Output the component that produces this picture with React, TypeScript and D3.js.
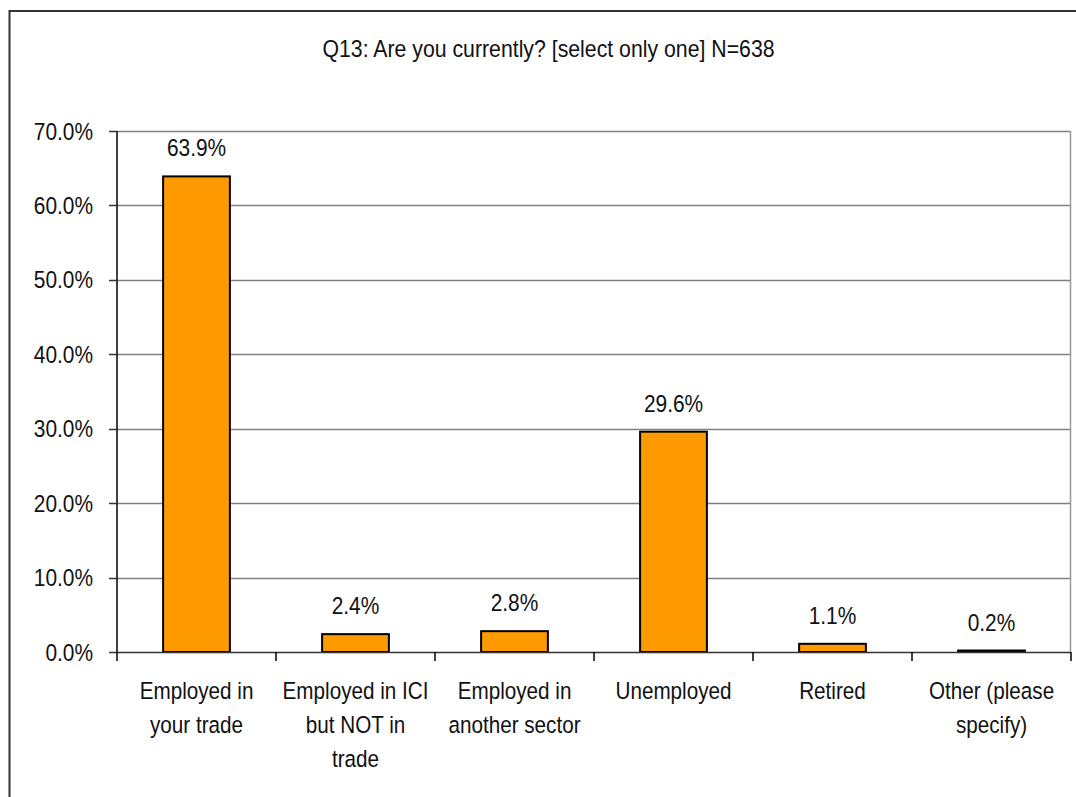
import React from "react";
import * as d3 from "d3";

const title = "Q13: Are you currently? [select only one] N=638";
const categories: string[][] = [
  ["Employed in", "your trade"],
  ["Employed in ICI", "but NOT in", "trade"],
  ["Employed in", "another sector"],
  ["Unemployed"],
  ["Retired"],
  ["Other (please", "specify)"],
];
const values = [63.9, 2.4, 2.8, 29.6, 1.1, 0.2];
const yTicks = [0, 10, 20, 30, 40, 50, 60, 70];

const FONT = "'Liberation Sans', Arial, sans-serif";
const SX = 0.87;

export default function App() {
  const W = 1076, H = 797;
  const left = 117, right = 1071, top = 131, bottom = 652;
  const x = d3.scaleBand<number>().domain(d3.range(values.length)).range([left, right]).paddingInner(0.58).paddingOuter(0.29);
  const xb = d3.scaleBand<number>().domain(d3.range(values.length)).range([left, right]);
  const y = d3.scaleLinear().domain([0, 70]).range([bottom, top]);
  const fmt = d3.format(".1f");
  return (
    <svg width={W} height={H} style={{ position: "absolute", left: 0, top: 0, background: "#fff" }} fontFamily={FONT}>
      <path d={`M9.5,${H} V11 H${W}`} fill="none" stroke="#333" strokeWidth={2} />
      <text transform={`translate(548.5,57) scale(0.925,1)`} textAnchor="middle" fontSize={23} fill="#111">{title}</text>
      {yTicks.filter(t => t > 0).map(t => (
        <line key={"g" + t} x1={left} x2={right} y1={Math.round(y(t)) + 0.5} y2={Math.round(y(t)) + 0.5} stroke="#808080" strokeWidth={1.5} />
      ))}
      <line x1={right - 0.5} x2={right - 0.5} y1={top} y2={bottom} stroke="#999" strokeWidth={1.5} />
      {values.map((v, i) => (
        <rect key={"b" + i} x={x(i)} y={y(v)} width={x.bandwidth()} height={bottom - y(v)} fill="#FF9900" stroke="#000" strokeWidth={2} />
      ))}
      <line x1={left} x2={left} y1={top} y2={bottom} stroke="#000" strokeWidth={1.5} />
      <line x1={left} x2={right} y1={bottom + 0.5} y2={bottom + 0.5} stroke="#333" strokeWidth={1.5} />
      {yTicks.map(t => (
        <g key={"t" + t}>
          <line x1={left - 8} x2={left} y1={Math.round(y(t)) + 0.5} y2={Math.round(y(t)) + 0.5} stroke="#333" strokeWidth={1.5} />
          <text transform={`translate(93,${y(t) + 8.5}) scale(${SX},1)`} textAnchor="end" fontSize={24} fill="#111">{fmt(t) + "%"}</text>
        </g>
      ))}
      {d3.range(values.length + 1).map(i => {
        const xx = i < values.length ? (xb(i) as number) : right;
        return <line key={"xt" + i} x1={xx} x2={xx} y1={bottom} y2={bottom + 9} stroke="#000" strokeWidth={1.5} />;
      })}
      {values.map((v, i) => (
        <text key={"v" + i} transform={`translate(${(x(i) as number) + x.bandwidth() / 2},${y(v) - 20}) scale(${SX},1)`} textAnchor="middle" fontSize={24} fill="#111">{fmt(v) + "%"}</text>
      ))}
      {categories.map((lines, i) => (
        <text key={"c" + i} transform={`translate(${(xb(i) as number) + xb.bandwidth() / 2},699) scale(0.88,1)`} textAnchor="middle" fontSize={23.5} fill="#111">
          {lines.map((l, j) => (
            <tspan key={j} x={0} y={j * 34}>{l}</tspan>
          ))}
        </text>
      ))}
    </svg>
  );
}
